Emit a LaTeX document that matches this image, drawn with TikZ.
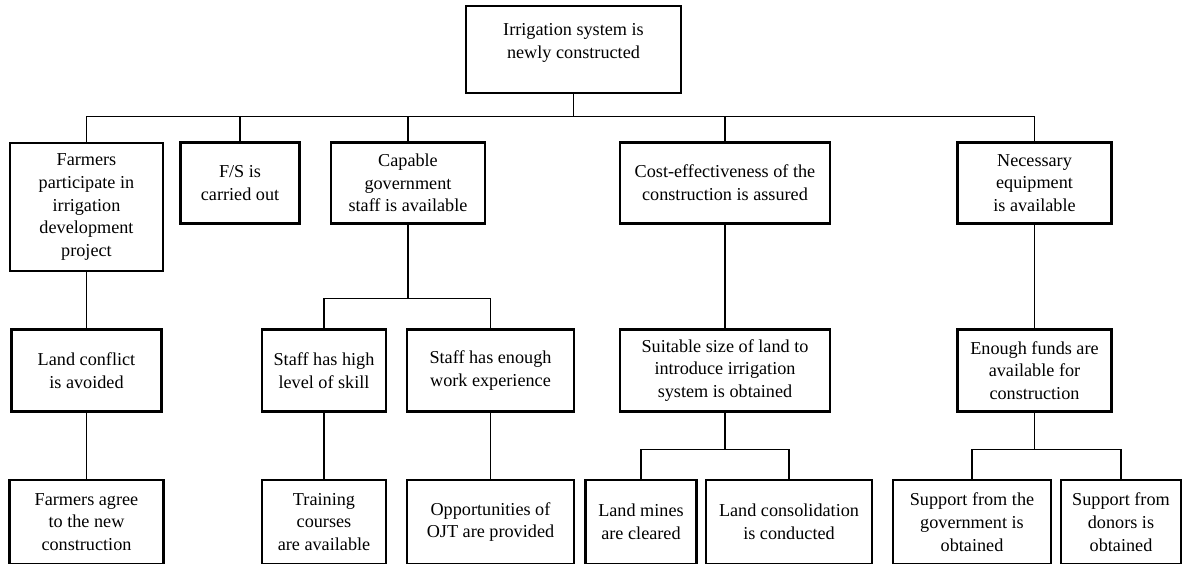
\documentclass[tikz,border=0pt]{standalone}
\usepackage{fontspec}
\setmainfont{Liberation Serif}

\begin{document}
\begin{tikzpicture}[x=1pt, y=-1pt,
    box/.style={draw, line width=2.4pt, align=center, inner sep=0pt, minimum height=81pt,
        font=\fontsize{18.2pt}{22.7pt}\selectfont},
    link/.style={line width=1.1pt}]
    \useasboundingbox (0,0) rectangle (1184,563);
    \fill[white] (0,0) rectangle (1184,563);
    % goal
    \node[box, minimum width=215pt, minimum height=87pt] (goal) at (573.5,49.5) {};
    \node[box, draw=none, minimum height=0pt] (goaltext) at (573.5,43) {Irrigation system is\\newly constructed};
    % first row
    \node[box, minimum width=153pt, minimum height=128pt] (farm) at (86.5,207) {Farmers\\participate in\\irrigation\\development\\project};
    \node[box, minimum width=119pt] (fs) at (240,183) {F/S is\\carried out};
    \node[box, minimum width=154pt] (capable) at (408,183) {Capable\\government\\staff is available};
    \node[box, minimum width=210pt] (cost) at (725,183) {Cost-effectiveness of the\\construction is assured};
    \node[box, minimum width=154pt] (equip) at (1034.5,183) {Necessary\\equipment\\is available};
    % second row
    \node[box, minimum width=150pt, minimum height=82pt] (conflict) at (86.5,370.5) {Land conflict\\is avoided};
    \node[box, minimum width=124.5pt, minimum height=82pt] (skill) at (324,370.5) {Staff has high\\level of skill};
    \node[box, minimum width=167pt, minimum height=82pt] (exper) at (490.5,370.5) {Staff has enough\\work experience};
    \node[box, minimum width=210pt, minimum height=82pt] (land) at (725,370.5) {Suitable size of land to\\introduce irrigation\\system is obtained};
    \node[box, minimum width=154pt, minimum height=82pt] (funds) at (1034.5,370.5) {Enough funds are\\available for\\construction};
    % third row (cut by the page edge)
    \node[box, minimum width=154pt, minimum height=84pt] (agree) at (86.5,522) {Farmers agree\\to the new\\construction};
    \node[box, minimum width=124.5pt, minimum height=84pt] (training) at (324,522) {Training\\courses\\are available};
    \node[box, minimum width=166.5pt, minimum height=84pt] (ojt) at (490.5,522) {Opportunities of\\OJT are provided};
    \node[box, minimum width=111pt, minimum height=84pt] (mines) at (641,522) {Land mines\\are cleared};
    \node[box, minimum width=166.5pt, minimum height=84pt] (consol) at (789,522) {Land consolidation\\is conducted};
    \node[box, minimum width=158.5pt, minimum height=84pt] (gov) at (972,522) {Support from the\\government is\\obtained};
    \node[box, minimum width=120.5pt, minimum height=84pt] (donors) at (1121,522) {Support from\\donors is\\obtained};
    % connectors
    \coordinate (busA) at (0,116.7);
    \foreach \n in {farm,fs,capable,cost,equip}
        \draw[link] (goal.south) -- (goal.south |- busA) -| (\n.north);
    \draw[link] (farm.south) -- (conflict.north) (conflict.south) -- (agree.north);
    \coordinate (busB) at (0,298.7);
    \foreach \n in {skill,exper}
        \draw[link] (capable.south) -- (capable.south |- busB) -| (\n.north);
    \draw[link] (skill.south) -- (training.north) (exper.south) -- (ojt.north);
    \draw[link] (cost.south) -- (land.north) (equip.south) -- (funds.north);
    \coordinate (busC) at (0,449.3);
    \foreach \n in {mines,consol}
        \draw[link] (land.south) -- (land.south |- busC) -| (\n.north);
    \foreach \n in {gov,donors}
        \draw[link] (funds.south) -- (funds.south |- busC) -| (\n.north);
\end{tikzpicture}
\end{document}
